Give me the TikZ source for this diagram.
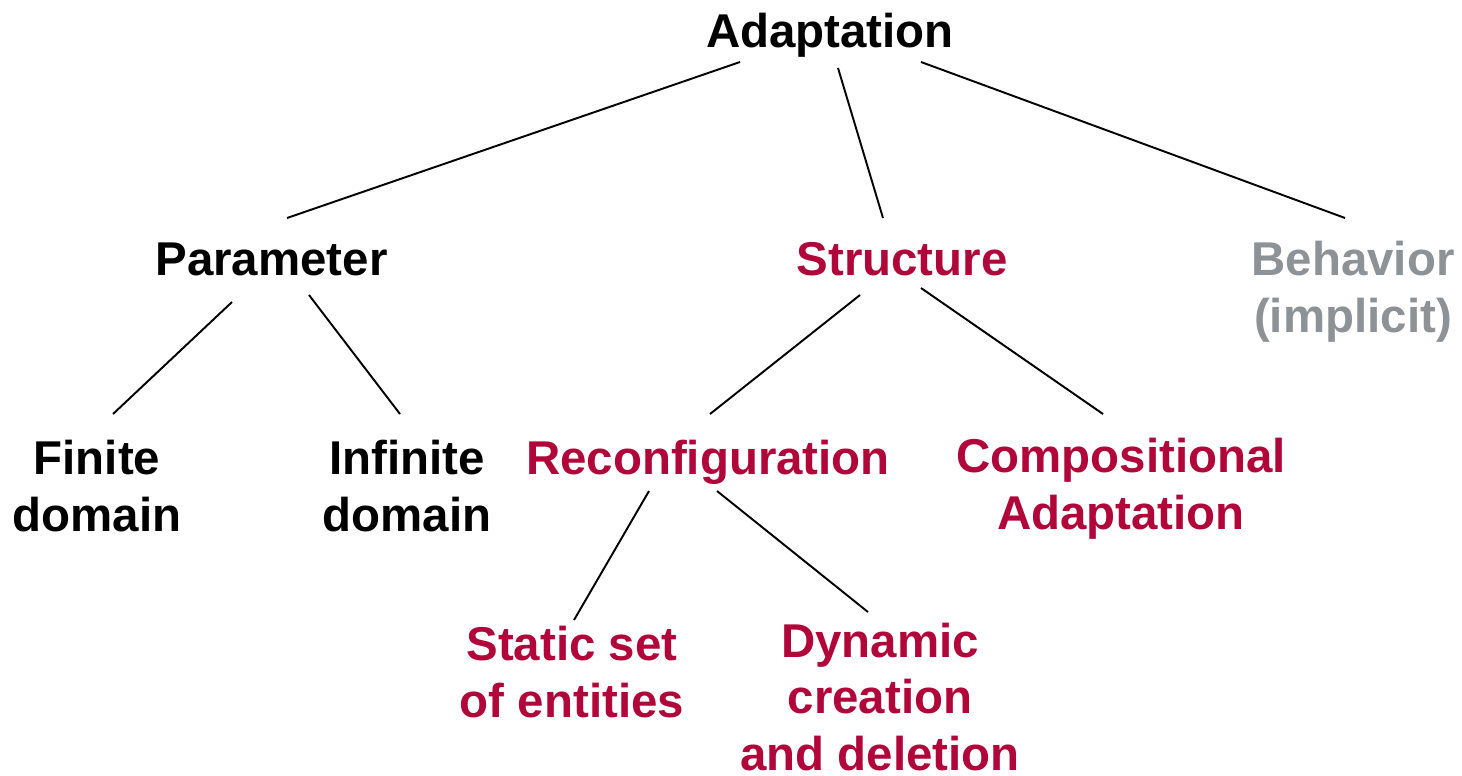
\documentclass[tikz,border=0pt]{standalone}
\usepackage{fontspec}
\setmainfont{Liberation Sans}
\definecolor{crimson}{HTML}{B0063A}
\definecolor{greyish}{HTML}{8C9296}
\tikzset{
	term/.style = {font = \fontsize{27}{32}\selectfont\bfseries,
				   align = center, inner sep = 0pt, anchor = base},
	edge/.style = {line width = 1.1pt}
}

\begin{document}
\begin{tikzpicture}[x = 0.02cm, y = -0.02cm]

	\useasboundingbox (0,0) rectangle (1462,775);

	% base = baseline of the last line
	\draw (830,47) node[term] (adapt) {Adaptation};
	
	\draw (271.5,275) node[term] (param) {Parameter};
	
	\draw (902,275) node[term, crimson] (struct) {Structure};
	
	\draw (1353,332) node[term, greyish] (behav) {Behavior\\(implicit)};
					 
	\draw (97,531) node[term] (finite) {Finite\\domain};
	
	\draw (407,531) node[term] (infinite) {Infinite\\domain};
	
	\draw (708,474) node[term, crimson] (reconf) {Reconfiguration};
	
	\draw (1121,529) node[term, crimson] (compos) {Compositional\\Adaptation};
	
	\draw (572,717) node[term, crimson] (static) {Static set\\of entities};
	
	\draw (880,770) node[term, crimson] (dynamic) {Dynamic\\creation\\and deletion};
					 
	\draw[edge] ([shift = {(-90,15)}]adapt.base) -- ([shift = {(15.5,-57)}]param.base);
	\draw[edge] ([shift = {(8,21)}]adapt.base) -- ([shift = {(-19,-57)}]struct.base);
	\draw[edge] ([shift = {(91,15)}]adapt.base) -- ([shift = {(-8,-114)}]behav.base);
	
	\draw[edge] ([shift = {(-39.5,27)}]param.base) -- ([shift = {(16,-117)}]finite.base);
	\draw[edge] ([shift = {(37.5,20)}]param.base) -- ([shift = {(-7,-117)}]infinite.base);
	
	\draw[edge] ([shift = {(-42,20)}]struct.base) -- ([shift = {(2,-60)}]reconf.base);
	\draw[edge] ([shift = {(19,13)}]struct.base) -- ([shift = {(-18,-115)}]compos.base);
	
	\draw[edge] ([shift = {(-59,17)}]reconf.base) -- ([shift = {(2,-97)}]static.base);
	\draw[edge] ([shift = {(9,17)}]reconf.base) -- ([shift = {(-12,-158)}]dynamic.base);
\end{tikzpicture}
\end{document}
